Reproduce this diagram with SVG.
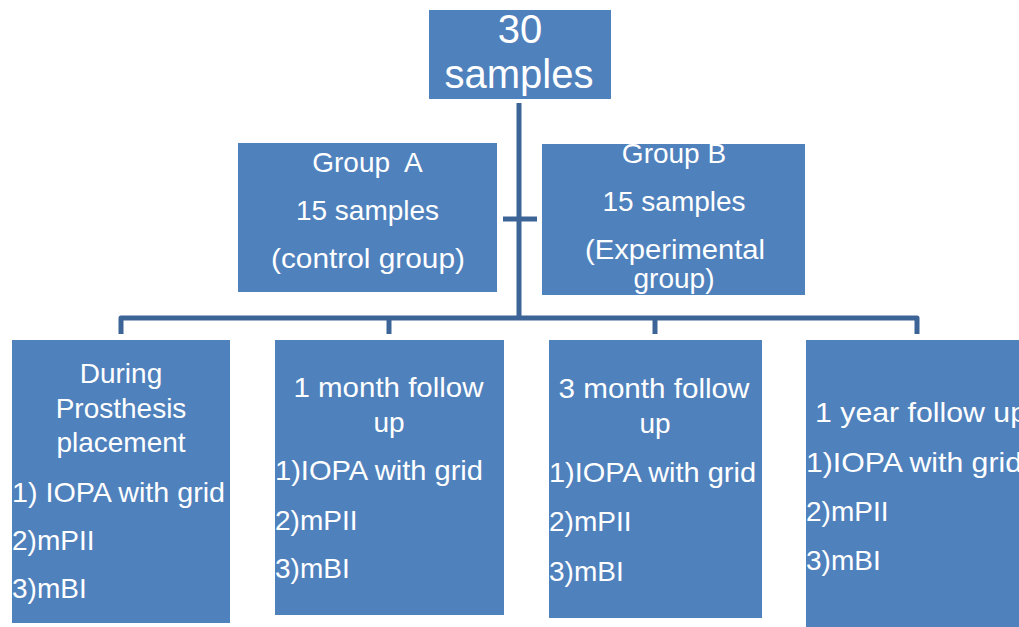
<svg xmlns="http://www.w3.org/2000/svg" width="1019" height="627" viewBox="0 0 1019 627">
<style>
.box{fill:#4F81BD;}
.t{fill:#ffffff;font-family:"Liberation Sans",Arial,sans-serif;font-size:28px;}
.c{text-anchor:middle;}
.big{font-size:40px;}
.conn{fill:none;stroke:#3C6496;stroke-width:5;stroke-linejoin:round;}
</style>
<rect width="1019" height="627" fill="#ffffff"/>
<g id="connectors">
<path class="conn" d="M519 103 V318"/>
<path class="conn" d="M503 219 H537"/>
<path class="conn" d="M121 334 V318 H917 V334"/>
<path class="conn" d="M389 318 V334"/>
<path class="conn" d="M655 318 V334"/>
</g>
<g id="root">
<rect class="box" x="429" y="10" width="182" height="89"/>
<text class="t c big" x="520" y="43">30</text>
<text class="t c big" x="519" y="88">samples</text>
</g>
<g id="groupA">
<rect class="box" x="238" y="143" width="259" height="149"/>
<text class="t c" x="367.5" y="172" style="white-space:pre">Group  A</text>
<text class="t c" x="367.5" y="220">15 samples</text>
<text class="t c" x="368" y="268" textLength="194" lengthAdjust="spacingAndGlyphs">(control group)</text>
</g>
<g id="groupB">
<rect class="box" x="542" y="144" width="263" height="151"/>
<text class="t c" x="674" y="163">Group B</text>
<text class="t c" x="674" y="211">15 samples</text>
<text class="t c" x="675" y="259" textLength="180" lengthAdjust="spacingAndGlyphs">(Experimental</text>
<text class="t c" x="674" y="288">group)</text>
</g>
<g id="during">
<rect class="box" x="12" y="340" width="218" height="283"/>
<text class="t c" x="121" y="383">During</text>
<text class="t c" x="121" y="418">Prosthesis</text>
<text class="t c" x="121" y="452">placement</text>
<text class="t" x="12" y="502" textLength="213" lengthAdjust="spacingAndGlyphs">1) IOPA with grid</text>
<text class="t" x="12" y="550">2)mPII</text>
<text class="t" x="12" y="598">3)mBI</text>
</g>
<g id="month1">
<rect class="box" x="275" y="340" width="229" height="275"/>
<text class="t c" x="388.5" y="397" textLength="190" lengthAdjust="spacingAndGlyphs">1 month follow</text>
<text class="t c" x="389" y="432">up</text>
<text class="t" x="275" y="480" textLength="208" lengthAdjust="spacingAndGlyphs">1)IOPA with grid</text>
<text class="t" x="275" y="530">2)mPII</text>
<text class="t" x="275" y="578">3)mBI</text>
</g>
<g id="month3">
<rect class="box" x="549" y="340" width="213" height="278"/>
<text class="t c" x="654" y="398" textLength="191" lengthAdjust="spacingAndGlyphs">3 month follow</text>
<text class="t c" x="655" y="433">up</text>
<text class="t" x="549" y="482" textLength="207" lengthAdjust="spacingAndGlyphs">1)IOPA with grid</text>
<text class="t" x="549" y="531">2)mPII</text>
<text class="t" x="549" y="581">3)mBI</text>
</g>
<g id="year1">
<rect class="box" x="806" y="340" width="230" height="290"/>
<text class="t" x="815" y="422" textLength="212" lengthAdjust="spacingAndGlyphs">1 year follow up</text>
<text class="t" x="806" y="472" textLength="216" lengthAdjust="spacingAndGlyphs">1)IOPA with grid</text>
<text class="t" x="806" y="521">2)mPII</text>
<text class="t" x="806" y="570">3)mBI</text>
</g>
</svg>
